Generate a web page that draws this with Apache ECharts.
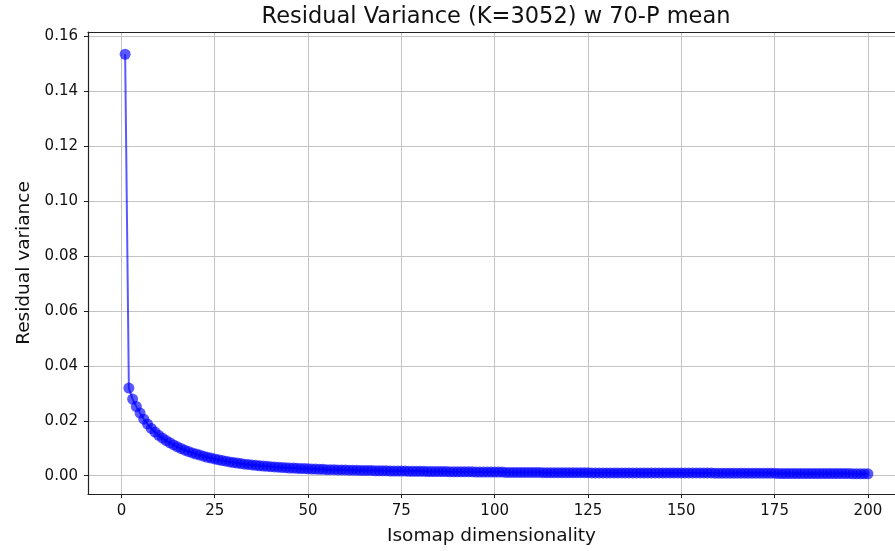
<!DOCTYPE html>
<html>
<head>
<meta charset="utf-8">
<script src="https://cdn.jsdelivr.net/npm/echarts@6/dist/echarts.min.js"></script>
<style>
  html, body { margin: 0; padding: 0; background: #fff; }
  #chart { width: 895px; height: 551px; }
</style>
</head>
<body>
<div id="chart"></div>
<script>
// Residual variance of the Isomap embedding for dimensionalities 1..200
const dims = [];
for (let d = 1; d <= 200; d++) dims.push(d);

const residualVariance = [
  0.1535, 0.0319, 0.0279, 0.0252, 0.0228, 0.0206, 0.0188, 0.0172, 0.0159, 0.0147,
  0.0137, 0.0128, 0.0120, 0.0112, 0.0105, 0.0099, 0.0093, 0.0088, 0.0083, 0.0079,
  0.0075, 0.0071, 0.0067, 0.0064, 0.0061, 0.0058, 0.0055, 0.0053, 0.0050, 0.0048,
  0.0046, 0.0044, 0.0042, 0.0041, 0.0039, 0.0038, 0.0036, 0.0035, 0.0034, 0.0033,
  0.0032, 0.0031, 0.0030, 0.0029, 0.0028, 0.0028, 0.0027, 0.0026, 0.0026, 0.0025,
  0.0024, 0.0024, 0.0023, 0.0023, 0.0022, 0.0022, 0.0022, 0.0021, 0.0021, 0.0021,
  0.0020, 0.0020, 0.0020, 0.0019, 0.0019, 0.0019, 0.0019, 0.0018, 0.0018, 0.0018,
  0.0018, 0.0017, 0.0017, 0.0017, 0.0017, 0.0017, 0.0016, 0.0016, 0.0016, 0.0016,
  0.0016, 0.0015, 0.0015, 0.0015, 0.0015, 0.0015, 0.0015, 0.0014, 0.0014, 0.0014,
  0.0014, 0.0014, 0.0014, 0.0014, 0.0013, 0.0013, 0.0013, 0.0013, 0.0013, 0.0013,
  0.0013, 0.0013, 0.0012, 0.0012, 0.0012, 0.0012, 0.0012, 0.0012, 0.0012, 0.0012,
  0.0012, 0.0012, 0.0011, 0.0011, 0.0011, 0.0011, 0.0011, 0.0011, 0.0011, 0.0011,
  0.0011, 0.0011, 0.0011, 0.0011, 0.0011, 0.0010, 0.0010, 0.0010, 0.0010, 0.0010,
  0.0010, 0.0010, 0.0010, 0.0010, 0.0010, 0.0010, 0.0010, 0.0010, 0.0010, 0.0010,
  0.0010, 0.0010, 0.0010, 0.0010, 0.0010, 0.0010, 0.0010, 0.0010, 0.0010, 0.0010,
  0.0010, 0.0010, 0.0010, 0.0010, 0.0010, 0.0010, 0.0010, 0.0010, 0.0009, 0.0009,
  0.0009, 0.0009, 0.0009, 0.0009, 0.0009, 0.0009, 0.0009, 0.0009, 0.0009, 0.0009,
  0.0009, 0.0009, 0.0009, 0.0009, 0.0009, 0.0008, 0.0008, 0.0008, 0.0008, 0.0008,
  0.0008, 0.0008, 0.0008, 0.0008, 0.0008, 0.0008, 0.0008, 0.0008, 0.0008, 0.0008,
  0.0008, 0.0008, 0.0008, 0.0008, 0.0008, 0.0007, 0.0007, 0.0007, 0.0007, 0.0007
];

const xTicks = [0, 25, 50, 75, 100, 125, 150, 175, 200];
const yTicks = [0, 0.02, 0.04, 0.06, 0.08, 0.10, 0.12, 0.14, 0.16];

const titleText = 'Residual Variance (K=3052) w 70-P mean';
const xName = 'Isomap dimensionality';
const yName = 'Residual variance';

const FONT = 'DejaVu Sans';
const INK = '#111';
const SPINE = { show: true, onZero: false, lineStyle: { color: '#222', width: 1.2 } };
const gridLine = { show: true, lineStyle: { color: '#c4c4c4', width: 1 } };

// The plot frame runs past the right edge of the canvas, so the x range is
// cut where the canvas ends.
const X_MIN = -8.95, X_MAX = 207.25;
const Y_MIN = -0.00667, Y_MAX = 0.1616;

const chart = echarts.init(document.getElementById('chart'), null, { renderer: 'canvas' });
chart.setOption({
  animation: false,
  backgroundColor: '#ffffff',
  graphic: [{
    type: 'text',
    x: 496,
    y: 17,
    style: {
      text: titleText,
      font: '22.5px "' + FONT + '"',
      fill: INK,
      textAlign: 'center',
      textVerticalAlign: 'middle'
    }
  }],
  grid: { left: 88, top: 32, width: 807, height: 462 },
  xAxis: [{
    type: 'value',
    min: X_MIN, max: X_MAX,
    name: xName,
    nameLocation: 'middle',
    nameGap: 33,
    nameTextStyle: { fontFamily: FONT, fontSize: 18.5, color: INK },
    axisLine: SPINE,
    axisTick: { show: true, length: 4, customValues: xTicks, lineStyle: { color: '#222' } },
    axisLabel: { customValues: xTicks, margin: 10, fontFamily: FONT, fontSize: 15, color: INK },
    splitLine: gridLine
  }, {
    // top spine
    type: 'value',
    position: 'top',
    min: X_MIN, max: X_MAX,
    axisLine: SPINE,
    axisTick: { show: false },
    axisLabel: { show: false },
    splitLine: { show: false }
  }],
  yAxis: {
    type: 'value',
    min: Y_MIN, max: Y_MAX,
    name: yName,
    nameLocation: 'middle',
    nameGap: 54,
    nameTextStyle: { fontFamily: FONT, fontSize: 18.5, color: INK },
    axisLine: SPINE,
    axisTick: { show: true, length: 4, customValues: yTicks, lineStyle: { color: '#222' } },
    axisLabel: {
      customValues: yTicks, margin: 10, fontFamily: FONT, fontSize: 15, color: INK,
      formatter: v => v.toFixed(2)
    },
    splitLine: gridLine
  },
  series: [{
    type: 'line',
    xAxisIndex: 0,
    data: dims.map((d, i) => [d, residualVariance[i]]),
    symbol: 'circle',
    symbolSize: 11,
    showAllSymbol: true,
    lineStyle: { color: 'rgba(0,0,255,0.65)', width: 2 },
    itemStyle: { color: 'rgba(0,0,255,0.65)', borderWidth: 0 },
    emphasis: { disabled: true }
  }]
});
</script>
</body>
</html>
